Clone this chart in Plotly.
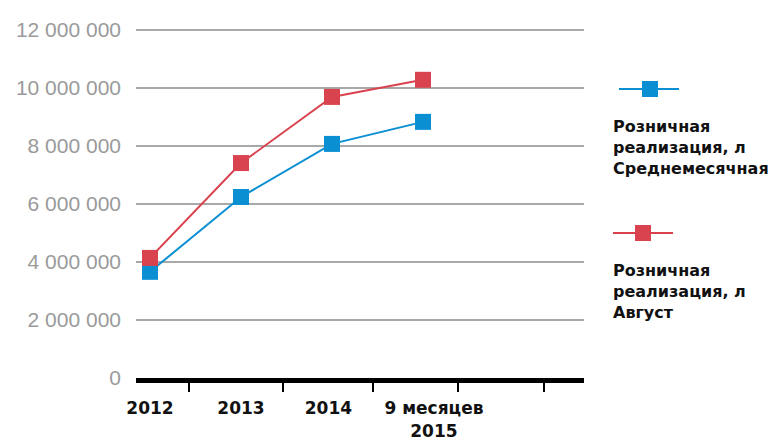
import plotly.graph_objects as go

categories = ["2012", "2013", "2014", "9 месяцев<br>2015"]
monthly_avg = [3660000, 6240000, 8070000, 8830000]
august = [4140000, 7410000, 9690000, 10280000]
series_names = ["Розничная<br>реализация, л<br>Среднемесячная",
                "Розничная<br>реализация, л<br>Август"]
y_ticks = [0, 2000000, 4000000, 6000000, 8000000, 10000000, 12000000]
y_tick_text = ["0", "2 000 000", "4 000 000", "6 000 000", "8 000 000", "10 000 000", "12 000 000"]

BLUE = "#0a8fd3"
RED = "#d9434f"
x_idx = list(range(len(categories)))

# page body has an 8px margin; figure sized so it ends at the window edge
W, H = 769, 438
ML, MR, MT, MB = 128, 193, 19, 68
PW = W - ML - MR
PH = H - MT - MB

fig = go.Figure()
fig.add_trace(go.Scatter(x=x_idx, y=monthly_avg, mode="lines+markers",
                         line=dict(color=BLUE, width=2),
                         marker=dict(symbol="square", size=16, color=BLUE),
                         name="Среднемесячная", showlegend=False, cliponaxis=False))
fig.add_trace(go.Scatter(x=x_idx, y=august, mode="lines+markers",
                         line=dict(color=RED, width=2),
                         marker=dict(symbol="square", size=16, color=RED),
                         name="Август", showlegend=False, cliponaxis=False))

fig.update_layout(
    width=W, height=H,
    margin=dict(l=ML, r=MR, t=MT, b=MB, autoexpand=False),
    paper_bgcolor="white", plot_bgcolor="white",
    font=dict(family="Liberation Sans, Arial, sans-serif"),
    xaxis=dict(range=[-0.154, 4.769], tickvals=[0, 1, 1.96, 3.12], ticktext=categories,
               ticks="", showgrid=False, zeroline=False, automargin=False,
               showline=True, linecolor="black", linewidth=5,
               tickfont=dict(size=17, color="#111111", family="DejaVu Sans, sans-serif", weight="bold"),
               ticklabelstandoff=11,
               minor=dict(tickvals=[0.43, 1.46, 2.45, 3.38, 4.33], ticks="outside",
                          ticklen=9, tickwidth=2, tickcolor="black", showgrid=False)),
    yaxis=dict(range=[0, 12100000], tickvals=y_ticks, ticktext=y_tick_text,
               showgrid=True, gridcolor="#a8a8a8", gridwidth=1.5, zeroline=False,
               showline=False, ticks="", ticklabelstandoff=14, automargin=False,
               tickfont=dict(size=21, color="#9a9a9a")),
)

def px_x(px):
    return (px - 136) / PW

def px_y(py):
    return (MT + 8 + PH - py) / PH

# custom legend (glyph above text)
legend_items = [
    (BLUE, 619, 679, 89, 650, 115, series_names[0]),
    (RED, 613, 673, 233, 643, 259, series_names[1]),
]
for color, lx0, lx1, ly, mx, ty, text in legend_items:
    fig.add_shape(type="line", xref="paper", yref="paper", x0=px_x(lx0), x1=px_x(lx1),
                  y0=px_y(ly), y1=px_y(ly), line=dict(color=color, width=2))
    fig.add_shape(type="rect", xref="paper", yref="paper",
                  x0=px_x(mx - 8), x1=px_x(mx + 8), y0=px_y(ly + 8), y1=px_y(ly - 8),
                  fillcolor=color, line=dict(width=0))
    fig.add_annotation(xref="paper", yref="paper", x=px_x(611), y=px_y(ty), xanchor="left", yanchor="top",
                       text=text, align="left", showarrow=False,
                       font=dict(size=16, color="#111111", family="DejaVu Sans, sans-serif", weight="bold"))

fig.write_html("out.html")
